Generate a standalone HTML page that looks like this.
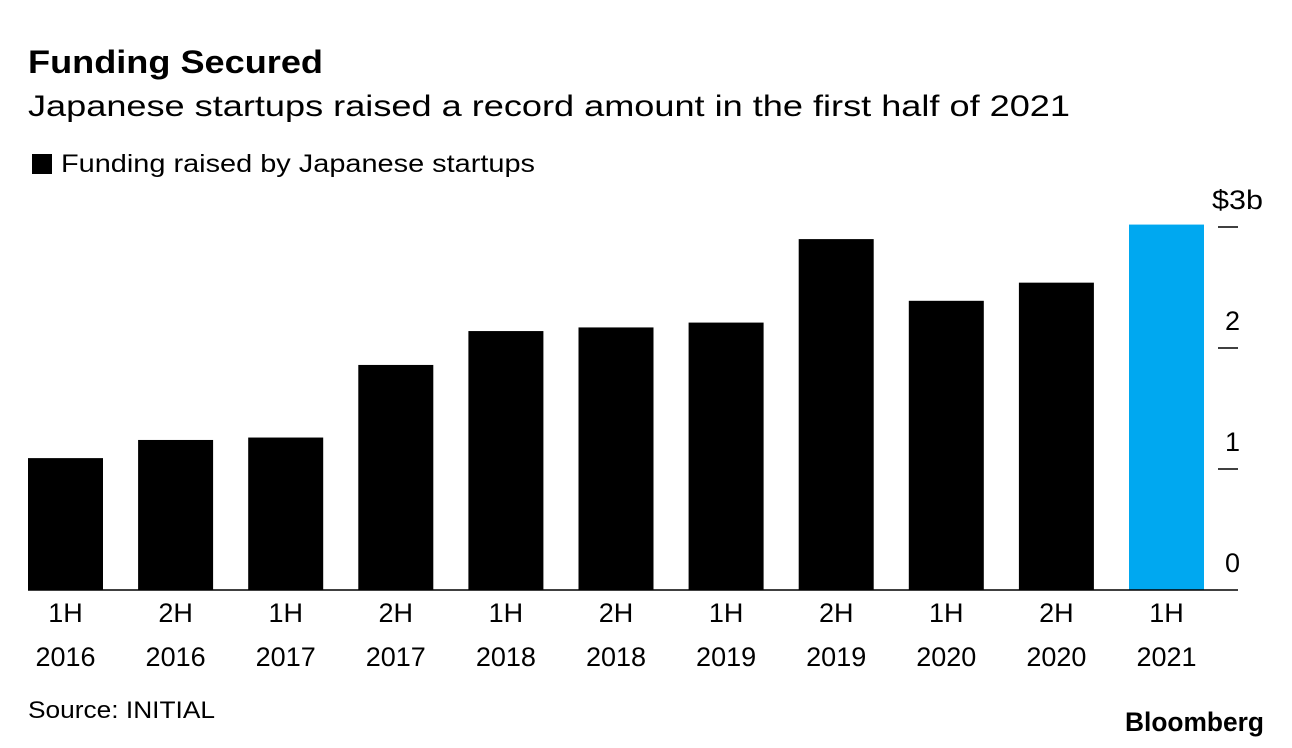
<!DOCTYPE html>
<html><head><meta charset="utf-8"><style>
body{margin:0;background:#fff;font-family:"Liberation Sans",sans-serif;}
svg{display:block}
</style></head><body>
<svg id="chart" width="1292" height="748" viewBox="0 0 1292 748">
<text x="28" y="73" font-size="32" font-weight="bold" fill="#000" textLength="295" lengthAdjust="spacingAndGlyphs">Funding Secured</text>
<text x="28" y="116" font-size="30" fill="#000" textLength="1042" lengthAdjust="spacingAndGlyphs">Japanese startups raised a record amount in the first half of 2021</text>
<rect x="32" y="154" width="20" height="20" fill="#000"/>
<text x="61" y="172" font-size="25" fill="#000" textLength="474" lengthAdjust="spacingAndGlyphs">Funding raised by Japanese startups</text>
<g id="bars"></g>
<g id="axis"></g>
<text x="28" y="718" font-size="24" fill="#000" textLength="187" lengthAdjust="spacingAndGlyphs">Source: INITIAL</text>
<text x="1264" y="731" font-size="27" font-weight="bold" text-anchor="end" fill="#000" textLength="139" lengthAdjust="spacingAndGlyphs">Bloomberg</text>
</svg>
<script>
const categories=["1H|2016","2H|2016","1H|2017","2H|2017","1H|2018","2H|2018","1H|2019","2H|2019","1H|2020","2H|2020","1H|2021"];
const values=[1.09,1.24,1.26,1.86,2.14,2.17,2.21,2.90,2.39,2.54,3.02];
const tickValues=[0,1,2,3];
const tickLabels=["0","1","2","$3b"];
const NS="http://www.w3.org/2000/svg";
const y0=590,pxPerUnit=121,x0=28,step=110.1,bw=75;
function yScale(v){return y0-v*pxPerUnit;}
function xScale(i){return x0+i*step;}
function mk(t,a,p){const e=document.createElementNS(NS,t);for(const k in a)e.setAttribute(k,a[k]);p.appendChild(e);return e;}
const bars=document.getElementById('bars'),axis=document.getElementById('axis');
values.forEach((v,i)=>{
 const r=mk('rect',{x:xScale(i),y:yScale(v),width:bw,height:y0-yScale(v),fill:i===values.length-1?'#00a8f0':'#000'},bars);
 
 
 const parts=categories[i].split('|');
 parts.forEach((p,j)=>{
  const t=mk('text',{x:xScale(i)+bw/2,y:622+j*44,'font-size':27,'text-anchor':'middle',fill:'#000'},axis);
  t.textContent=p;
  
  
 });
});
const base=mk('line',{x1:28,x2:1238,y1:y0,y2:y0,stroke:'#000','stroke-width':1.5},axis);


tickValues.forEach((v,i)=>{
 if(v>0){const l=mk('line',{x1:1218,x2:1238,y1:yScale(v),y2:yScale(v),stroke:'#000','stroke-width':1.5},axis);
 
 }
 const isTop=i===tickValues.length-1;
 const t=mk('text',{x:isTop?1263:1240,y:yScale(v)-18,'font-size':27,'text-anchor':'end',fill:'#000'},axis);
 t.textContent=tickLabels[i];
 if(isTop){t.setAttribute('textLength','51');t.setAttribute('lengthAdjust','spacingAndGlyphs');}
 
 
});
</script>
</body></html>
